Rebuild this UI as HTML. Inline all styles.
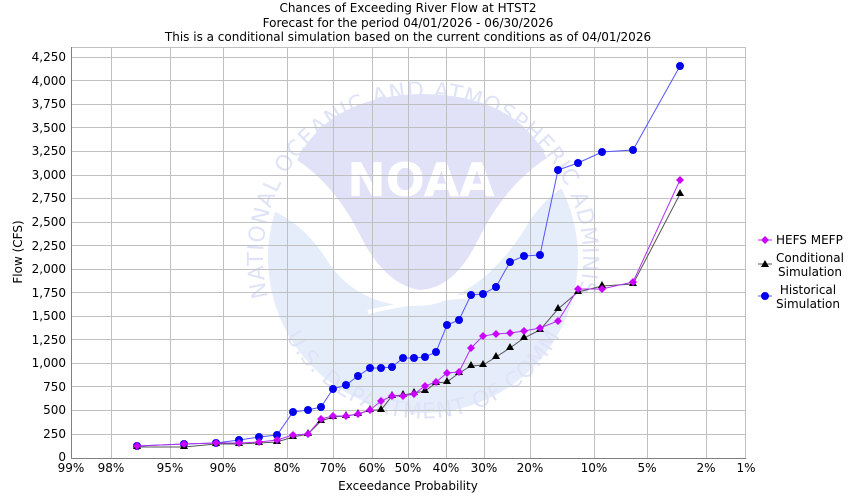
<!DOCTYPE html>
<html><head><meta charset="utf-8"><style>body{margin:0;background:#fff}svg{display:block}</style></head><body>
<svg width="850" height="500" xmlns="http://www.w3.org/2000/svg" font-family="DejaVu Sans, Liberation Sans, sans-serif" font-size="12">
<rect width="850" height="500" fill="#fff"/>
<!-- watermark -->
<g>
<circle cx="423" cy="258" r="155" fill="#e5edfb"/>
<path d="M255,95 L595,95 L595,178 Q560,178 530,220 Q490,290 430,305 Q365,312 330,265 Q300,215 255,205 Z" fill="#fff"/>
<path d="M368,312 Q420,300 470,296" stroke="#fff" stroke-width="4" fill="none"/>
<path d="M297,160 Q330,95 423,94 Q515,95 547,158 Q505,185 478,240 Q455,288 420,290 Q385,285 360,235 Q335,185 297,160 Z" fill="#e1e1f8"/>
<text x="421" y="196" text-anchor="middle" font-size="46" font-weight="bold" fill="#fff">NOAA</text>
<defs><path id="arc" d="M268,297 A160,160 0 1,1 578,297"/><path id="arc2" d="M283,330 A155,155 0 0,0 563,330"/></defs>
<text font-size="22" fill="#dfe3f7" letter-spacing="1"><textPath href="#arc">NATIONAL OCEANIC AND ATMOSPHERIC ADMINISTRATION</textPath></text>
<text font-size="22" fill="#dfe3f7" letter-spacing="1"><textPath href="#arc2" startOffset="2%">U.S. DEPARTMENT OF COMMERCE</textPath></text>
</g>
<!-- grid -->
<g stroke="#c0c0c0" stroke-width="1">
<line x1="71" x2="746" y1="57.5" y2="57.5"/><line x1="71" x2="746" y1="80.5" y2="80.5"/><line x1="71" x2="746" y1="104.5" y2="104.5"/><line x1="71" x2="746" y1="127.5" y2="127.5"/><line x1="71" x2="746" y1="151.5" y2="151.5"/><line x1="71" x2="746" y1="175.5" y2="175.5"/><line x1="71" x2="746" y1="198.5" y2="198.5"/><line x1="71" x2="746" y1="222.5" y2="222.5"/><line x1="71" x2="746" y1="245.5" y2="245.5"/><line x1="71" x2="746" y1="269.5" y2="269.5"/><line x1="71" x2="746" y1="292.5" y2="292.5"/><line x1="71" x2="746" y1="316.5" y2="316.5"/><line x1="71" x2="746" y1="339.5" y2="339.5"/><line x1="71" x2="746" y1="363.5" y2="363.5"/><line x1="71" x2="746" y1="386.5" y2="386.5"/><line x1="71" x2="746" y1="410.5" y2="410.5"/><line x1="71" x2="746" y1="434.5" y2="434.5"/>
<line y1="47" y2="458" x1="111.5" x2="111.5"/><line y1="47" y2="458" x1="170.5" x2="170.5"/><line y1="47" y2="458" x1="223.5" x2="223.5"/><line y1="47" y2="458" x1="287.5" x2="287.5"/><line y1="47" y2="458" x1="333.5" x2="333.5"/><line y1="47" y2="458" x1="372.5" x2="372.5"/><line y1="47" y2="458" x1="408.5" x2="408.5"/><line y1="47" y2="458" x1="446.5" x2="446.5"/><line y1="47" y2="458" x1="484.5" x2="484.5"/><line y1="47" y2="458" x1="530.5" x2="530.5"/><line y1="47" y2="458" x1="594.5" x2="594.5"/><line y1="47" y2="458" x1="647.5" x2="647.5"/><line y1="47" y2="458" x1="706.5" x2="706.5"/>
<line x1="71" x2="746" y1="47.5" y2="47.5"/><line y1="47" y2="458" x1="745.5" x2="745.5"/>
</g>
<g stroke="#808080"><line x1="71.5" x2="71.5" y1="47" y2="458"/><line x1="71" x2="746" y1="458.5" y2="458.5"/></g>
<!-- y labels -->
<g text-anchor="end" fill="#000">
<text x="66" y="61">4,250</text><text x="66" y="85">4,000</text><text x="66" y="108">3,750</text><text x="66" y="132">3,500</text><text x="66" y="155">3,250</text><text x="66" y="179">3,000</text><text x="66" y="202">2,750</text><text x="66" y="226">2,500</text><text x="66" y="250">2,250</text><text x="66" y="273">2,000</text><text x="66" y="297">1,750</text><text x="66" y="320">1,500</text><text x="66" y="344">1,250</text><text x="66" y="367">1,000</text><text x="66" y="391">750</text><text x="66" y="414">500</text><text x="66" y="438">250</text><text x="66" y="461">0</text>
</g>
<g text-anchor="middle">
<text x="71" y="472">99%</text><text x="111" y="472">98%</text><text x="170" y="472">95%</text><text x="223" y="472">90%</text><text x="287" y="472">80%</text><text x="333" y="472">70%</text><text x="372" y="472">60%</text><text x="408" y="472">50%</text><text x="446" y="472">40%</text><text x="484" y="472">30%</text><text x="530" y="472">20%</text><text x="594" y="472">10%</text><text x="647" y="472">5%</text><text x="706" y="472">2%</text><text x="746" y="472">1%</text>
<text x="408" y="490">Exceedance Probability</text>
<text x="408" y="12">Chances of Exceeding River Flow at HTST2</text>
<text x="408" y="27">Forecast for the period 04/01/2026 - 06/30/2026</text>
<text x="408" y="41">This is a conditional simulation based on the current conditions as of 04/01/2026</text>
</g>
<text transform="translate(22,252) rotate(-90)" text-anchor="middle">Flow (CFS)</text>
<!-- series -->
<polyline fill="none" stroke="#5555ff" stroke-width="1" points="137,446 184,444 216,443 239,440 259,437 277,435 293,412 308,410 321,407 333,389 346,385 358,376 370,368 381,368 392,367 403,358 414,358 425,357 436,352 447,325 459,320 471,295 483,294 496,287 510,262 524,256 540,255 558,170 578,163 602,152 633,150 680,66"/>
<g fill="#0000ee">
<circle cx="137" cy="446" r="4"/><circle cx="184" cy="444" r="4"/><circle cx="216" cy="443" r="4"/><circle cx="239" cy="440" r="4"/><circle cx="259" cy="437" r="4"/><circle cx="277" cy="435" r="4"/><circle cx="293" cy="412" r="4"/><circle cx="308" cy="410" r="4"/><circle cx="321" cy="407" r="4"/><circle cx="333" cy="389" r="4"/><circle cx="346" cy="385" r="4"/><circle cx="358" cy="376" r="4"/><circle cx="370" cy="368" r="4"/><circle cx="381" cy="368" r="4"/><circle cx="392" cy="367" r="4"/><circle cx="403" cy="358" r="4"/><circle cx="414" cy="358" r="4"/><circle cx="425" cy="357" r="4"/><circle cx="436" cy="352" r="4"/><circle cx="447" cy="325" r="4"/><circle cx="459" cy="320" r="4"/><circle cx="471" cy="295" r="4"/><circle cx="483" cy="294" r="4"/><circle cx="496" cy="287" r="4"/><circle cx="510" cy="262" r="4"/><circle cx="524" cy="256" r="4"/><circle cx="540" cy="255" r="4"/><circle cx="558" cy="170" r="4"/><circle cx="578" cy="163" r="4"/><circle cx="602" cy="152" r="4"/><circle cx="633" cy="150" r="4"/><circle cx="680" cy="66" r="4"/>
</g>
<polyline fill="none" stroke="#555" stroke-width="1" points="137,447 184,447 216,444 239,444 259,443 277,442 293,437 308,434 321,421 333,417 346,416 358,414 370,410 381,410 392,396 403,395 414,393 425,391 436,383 447,382 459,373 471,366 483,365 496,357 510,348 524,338 540,330 558,309 578,292 602,286 633,284 680,194"/>
<polyline fill="none" stroke="#b030f0" stroke-width="1" points="137,446 184,444 216,443 239,443 259,442 277,440 293,435 308,434 321,419 333,416 346,416 358,414 370,410 381,401 392,396 403,396 414,394 425,386 436,382 447,373 459,372 471,348 483,336 496,334 510,333 524,331 540,328 558,321 578,289 602,289 633,282 680,180"/>
<g fill="#000">
<path d="M137,442l4,7h-8z M184,442l4,7h-8z M216,439l4,7h-8z M239,439l4,7h-8z M259,438l4,7h-8z M277,437l4,7h-8z M293,432l4,7h-8z M308,429l4,7h-8z M321,416l4,7h-8z M333,412l4,7h-8z M346,411l4,7h-8z M358,409l4,7h-8z M370,405l4,7h-8z M381,405l4,7h-8z M392,391l4,7h-8z M403,390l4,7h-8z M414,388l4,7h-8z M425,386l4,7h-8z M436,378l4,7h-8z M447,377l4,7h-8z M459,368l4,7h-8z M471,361l4,7h-8z M483,360l4,7h-8z M496,352l4,7h-8z M510,343l4,7h-8z M524,333l4,7h-8z M540,325l4,7h-8z M558,304l4,7h-8z M578,287l4,7h-8z M602,281l4,7h-8z M633,279l4,7h-8z M680,189l4,7h-8z"/>
</g>
<g fill="#cc00ff">
<path d="M137,442l4,4l-4,4l-4,-4z M184,440l4,4l-4,4l-4,-4z M216,439l4,4l-4,4l-4,-4z M239,439l4,4l-4,4l-4,-4z M259,438l4,4l-4,4l-4,-4z M277,436l4,4l-4,4l-4,-4z M293,431l4,4l-4,4l-4,-4z M308,430l4,4l-4,4l-4,-4z M321,415l4,4l-4,4l-4,-4z M333,412l4,4l-4,4l-4,-4z M346,412l4,4l-4,4l-4,-4z M358,410l4,4l-4,4l-4,-4z M370,406l4,4l-4,4l-4,-4z M381,397l4,4l-4,4l-4,-4z M392,392l4,4l-4,4l-4,-4z M403,392l4,4l-4,4l-4,-4z M414,390l4,4l-4,4l-4,-4z M425,382l4,4l-4,4l-4,-4z M436,378l4,4l-4,4l-4,-4z M447,369l4,4l-4,4l-4,-4z M459,368l4,4l-4,4l-4,-4z M471,344l4,4l-4,4l-4,-4z M483,332l4,4l-4,4l-4,-4z M496,330l4,4l-4,4l-4,-4z M510,329l4,4l-4,4l-4,-4z M524,327l4,4l-4,4l-4,-4z M540,324l4,4l-4,4l-4,-4z M558,317l4,4l-4,4l-4,-4z M578,285l4,4l-4,4l-4,-4z M602,285l4,4l-4,4l-4,-4z M633,278l4,4l-4,4l-4,-4z M680,176l4,4l-4,4l-4,-4z"/>
</g>
<!-- legend -->
<line x1="758" x2="772" y1="240" y2="240" stroke="#b030f0"/><path d="M765,236l4,4l-4,4l-4,-4z" fill="#cc00ff"/>
<text x="776" y="244">HEFS MEFP</text>
<line x1="758" x2="772" y1="264" y2="264" stroke="#555"/><path d="M765,260l4,7h-8z" fill="#000"/>
<text x="810" y="262" text-anchor="middle">Conditional</text><text x="810" y="276" text-anchor="middle">Simulation</text>
<line x1="758" x2="772" y1="296" y2="296" stroke="#5555ff"/><circle cx="765" cy="296" r="4" fill="#0000ee"/>
<text x="808" y="294" text-anchor="middle">Historical</text><text x="808" y="308" text-anchor="middle">Simulation</text>
</svg>
</body></html>
